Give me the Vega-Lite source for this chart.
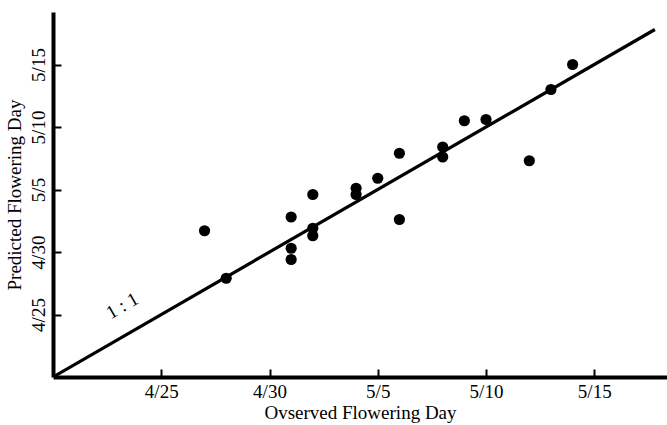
{
  "$schema": "https://vega.github.io/schema/vega-lite/v6.json",
  "width": 614,
  "height": 365,
  "autosize": {"type": "none"},
  "padding": {"left": 53, "top": 12, "right": 0, "bottom": 48},
  "background": "white",
  "config": {
    "view": {"stroke": null},
    "font": "Liberation Serif",
    "axis": {
      "grid": false,
      "domainColor": "black",
      "domainWidth": 4,
      "tickColor": "black",
      "tickWidth": 2,
      "tickSize": -8,
      "labelFont": "Liberation Serif",
      "labelFontSize": 19,
      "labelColor": "black",
      "titleFont": "Liberation Serif",
      "titleFontSize": 19,
      "titleFontWeight": "normal",
      "titleColor": "black"
    }
  },
  "datasets": {
    "points": [
      {"observed": 27, "predicted": 31.7},
      {"observed": 28, "predicted": 27.9},
      {"observed": 31, "predicted": 32.8},
      {"observed": 31, "predicted": 30.3},
      {"observed": 31, "predicted": 29.4},
      {"observed": 32, "predicted": 34.6},
      {"observed": 32, "predicted": 31.9},
      {"observed": 32, "predicted": 31.3},
      {"observed": 34, "predicted": 35.1},
      {"observed": 34, "predicted": 34.6},
      {"observed": 35, "predicted": 35.9},
      {"observed": 36, "predicted": 37.9},
      {"observed": 36, "predicted": 32.6},
      {"observed": 38, "predicted": 38.4},
      {"observed": 38, "predicted": 37.6},
      {"observed": 39, "predicted": 40.5},
      {"observed": 40, "predicted": 40.6},
      {"observed": 42, "predicted": 37.3},
      {"observed": 43, "predicted": 43.0},
      {"observed": 44, "predicted": 45.0}
    ],
    "oneToOne": [
      {"observed": 20, "predicted": 20},
      {"observed": 47.8, "predicted": 47.8}
    ],
    "note": [
      {"observed": 23.2, "predicted": 25.7, "label": "1 : 1"}
    ]
  },
  "layer": [
    {
      "data": {"name": "oneToOne"},
      "mark": {"type": "line", "color": "black", "strokeWidth": 3.2, "clip": true},
      "encoding": {
        "x": {
          "field": "observed", "type": "quantitative",
          "scale": {"domain": [20, 48.36], "nice": false, "zero": false},
          "axis": {
            "title": "Ovserved Flowering Day",
            "values": [25, 30, 35, 40, 45],
            "labelExpr": "datum.value <= 30 ? '4/' + datum.value : '5/' + (datum.value - 30)",
            "labelPadding": 13,
            "titlePadding": 2
          }
        },
        "y": {
          "field": "predicted", "type": "quantitative",
          "scale": {"domain": [20, 49.2], "nice": false, "zero": false},
          "axis": {
            "title": "Predicted Flowering Day",
            "values": [25, 30, 35, 40, 45],
            "labelExpr": "datum.value <= 30 ? '4/' + datum.value : '5/' + (datum.value - 30)",
            "labelAngle": -90,
            "labelAlign": "center",
            "labelBaseline": "bottom",
            "labelPadding": 13,
            "titlePadding": 5
          }
        }
      }
    },
    {
      "data": {"name": "points"},
      "mark": {"type": "circle", "color": "black", "opacity": 1, "size": 125},
      "encoding": {
        "x": {"field": "observed", "type": "quantitative"},
        "y": {"field": "predicted", "type": "quantitative"}
      }
    },
    {
      "data": {"name": "note"},
      "mark": {"type": "text", "angle": -30, "fontSize": 19, "font": "Liberation Serif", "color": "black"},
      "encoding": {
        "x": {"field": "observed", "type": "quantitative"},
        "y": {"field": "predicted", "type": "quantitative"},
        "text": {"field": "label"}
      }
    }
  ]
}
